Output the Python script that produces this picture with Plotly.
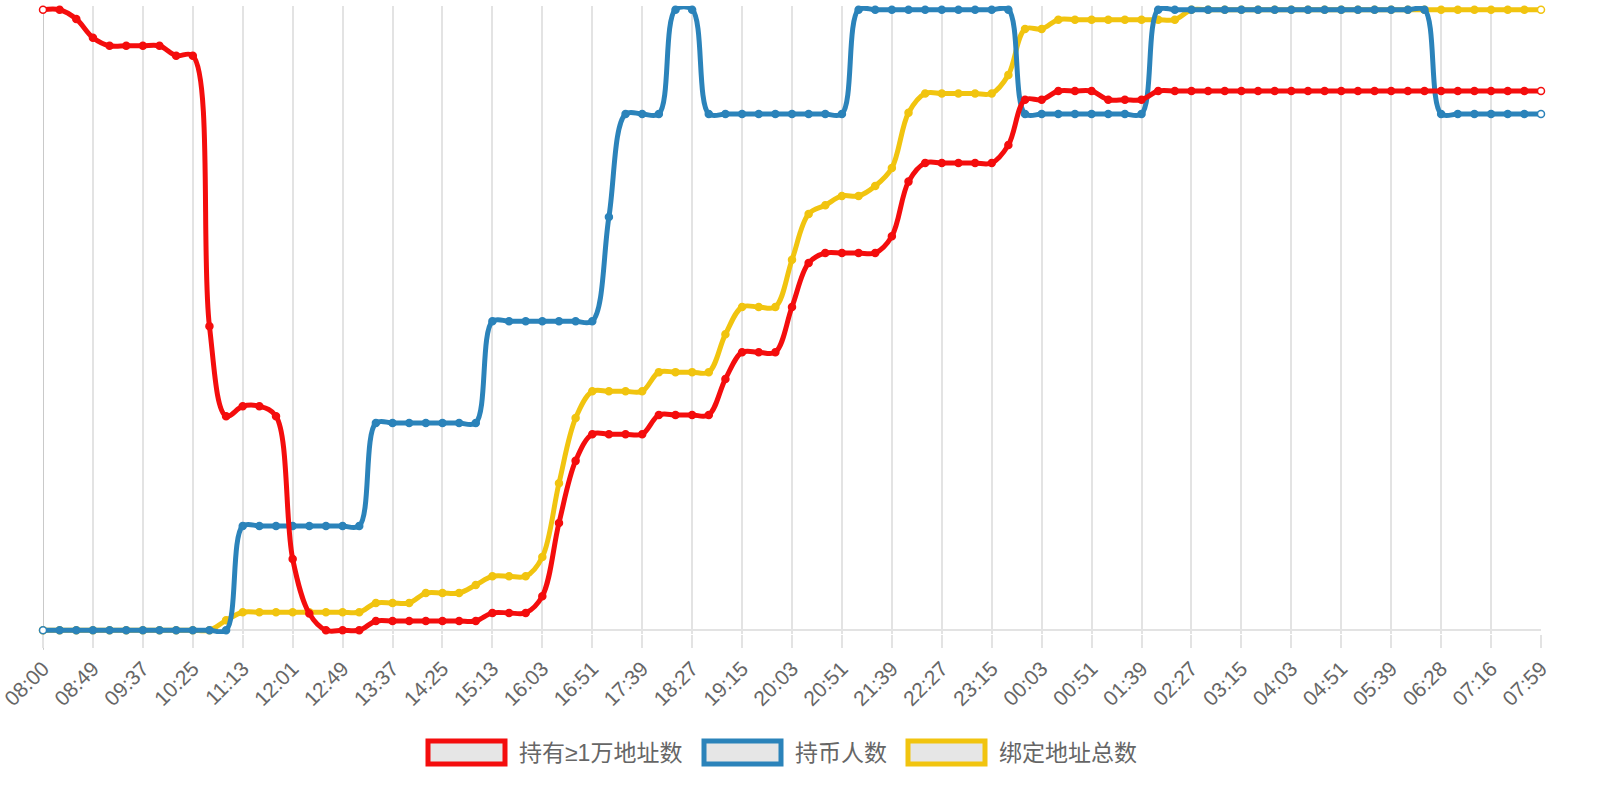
import plotly.graph_objects as go

# tick labels shown on the x axis (one every 3rd sample)
tick_labels = ["08:00", "08:49", "09:37", "10:25", "11:13", "12:01", "12:49", "13:37",
               "14:25", "15:13", "16:03", "16:51", "17:39", "18:27", "19:15", "20:03",
               "20:51", "21:39", "22:27", "23:15", "00:03", "00:51", "01:39", "02:27",
               "03:15", "04:03", "04:51", "05:39", "06:28", "07:16", "07:59"]

# no y scale is printed on the chart, so values are read as % of each series' own range
holders_10k = [100, 100, 98.5, 95.5, 94.2, 94.2, 94.2, 94.2, 92.6, 92.6,
               49.0, 34.5, 36.1, 36.1, 34.5, 11.5, 2.7, 0, 0, 0,
               1.5, 1.5, 1.5, 1.5, 1.5, 1.5, 1.5, 2.8, 2.8, 2.8,
               5.5, 17.3, 27.3, 31.6, 31.6, 31.6, 31.6, 34.7, 34.7, 34.7,
               34.7, 40.5, 44.8, 44.8, 44.8, 52.1, 59.2, 60.8, 60.8, 60.8,
               60.8, 63.5, 72.3, 75.3, 75.3, 75.3, 75.3, 75.3, 78.2, 85.5,
               85.5, 86.9, 86.9, 86.9, 85.5, 85.5, 85.5, 86.9, 86.9, 86.9,
               86.9, 86.9, 86.9, 86.9, 86.9, 86.9, 86.9, 86.9, 86.9, 86.9,
               86.9, 86.9, 86.9, 86.9, 86.9, 86.9, 86.9, 86.9, 86.9, 86.9,
               86.9]

holders = [0, 0, 0, 0, 0, 0, 0, 0, 0, 0,
           0, 0, 16.8, 16.8, 16.8, 16.8, 16.8, 16.8, 16.8, 16.8,
           33.4, 33.4, 33.4, 33.4, 33.4, 33.4, 33.4, 49.8, 49.8, 49.8,
           49.8, 49.8, 49.8, 49.8, 66.6, 83.2, 83.2, 83.2, 100, 100,
           83.2, 83.2, 83.2, 83.2, 83.2, 83.2, 83.2, 83.2, 83.2, 100,
           100, 100, 100, 100, 100, 100, 100, 100, 100, 83.2,
           83.2, 83.2, 83.2, 83.2, 83.2, 83.2, 83.2, 100, 100, 100,
           100, 100, 100, 100, 100, 100, 100, 100, 100, 100,
           100, 100, 100, 100, 83.2, 83.2, 83.2, 83.2, 83.2, 83.2,
           83.2]

bound_total = [0, 0, 0, 0, 0, 0, 0, 0, 0, 0,
               0, 1.6, 2.9, 2.9, 2.9, 2.9, 2.9, 2.9, 2.9, 2.9,
               4.4, 4.4, 4.4, 6.0, 6.0, 6.0, 7.3, 8.7, 8.7, 8.7,
               11.8, 23.7, 34.2, 38.5, 38.5, 38.5, 38.5, 41.6, 41.6, 41.6,
               41.6, 47.7, 52.1, 52.1, 52.1, 59.7, 67.1, 68.5, 70.0, 70.0,
               71.6, 74.5, 83.4, 86.5, 86.5, 86.5, 86.5, 86.5, 89.5, 96.9,
               96.9, 98.4, 98.4, 98.4, 98.4, 98.4, 98.4, 98.4, 98.4, 100,
               100, 100, 100, 100, 100, 100, 100, 100, 100, 100,
               100, 100, 100, 100, 100, 100, 100, 100, 100, 100,
               100]

series_names = ["持有≥1万地址数", "持币人数", "绑定地址总数"]
colors = ["#f40d0d", "#2b83ba", "#f1c40f"]

W, H = 1600, 800
M_L, M_R, M_T, M_B = 43, 59, 6, 166

fig = go.Figure()

# yellow first so it sits under the others, like the reference
for name, vals, col in [(series_names[2], bound_total, colors[2]),
                        (series_names[1], holders, colors[1]),
                        (series_names[0], holders_10k, colors[0])]:
    n = len(vals)
    fills = [col] * n
    fills[0] = "white"
    fills[-1] = "white"
    fig.add_trace(go.Scatter(
        x=list(range(n)), y=vals, name=name, mode="lines+markers",
        line=dict(color=col, width=5, shape="spline", smoothing=1.0),
        marker=dict(size=7, color=fills, line=dict(color=col, width=1.5)),
        cliponaxis=False, showlegend=False,
    ))

fig.update_xaxes(
    range=[0, len(holders) - 1], automargin=False, ticklabeloverflow="allow",
    tickmode="array", tickvals=list(range(0, len(holders), 3)), ticktext=tick_labels,
    tickangle=-45, tickfont=dict(family="Liberation Sans", size=21, color="#666666"),
    showgrid=True, gridcolor="#e3e3e3", gridwidth=2,
    ticks="outside", ticklen=13, tickwidth=2, tickcolor="#e3e3e3",
    zeroline=False, showline=False,
)
fig.update_yaxes(
    range=[-0.6, 100.6], showticklabels=False, showgrid=False, automargin=False,
    zeroline=True, zerolinecolor="#e3e3e3", zerolinewidth=2,
)

# left axis line (darker than the grid)
fig.add_shape(type="line", xref="x", yref="paper", x0=0, x1=0, y0=-0.025, y1=1,
              line=dict(color="#c9c9c9", width=2), layer="below")


# legend drawn by hand: outlined boxes like the original
def py(p):
    return (H - M_B - p) / (H - M_T - M_B)


def px(p):
    return (p - M_L) / (W - M_L - M_R)


legend_x = [428, 704, 908]
for name, col, lx in zip(series_names, colors, legend_x):
    fig.add_shape(type="rect", xref="paper", yref="paper",
                  x0=px(lx), x1=px(lx + 77), y0=py(764), y1=py(741),
                  line=dict(color=col, width=5), fillcolor="#e6e6e6")
    fig.add_annotation(xref="paper", yref="paper", x=px(lx + 89), y=py(752.5),
                       text=name, showarrow=False, xanchor="left", yanchor="middle",
                       font=dict(family="Liberation Sans, Noto Sans CJK SC", size=23,
                                 color="#666666"))

fig.update_layout(
    width=W, height=H,
    margin=dict(l=M_L, r=M_R, t=M_T, b=M_B),
    plot_bgcolor="white", paper_bgcolor="white",
    showlegend=False,
)

# the page body has an 8px default margin; drop it so the figure fills the window
fig.write_html("out.html", config={"displayModeBar": False},
               post_script="document.body.style.margin='0';")
